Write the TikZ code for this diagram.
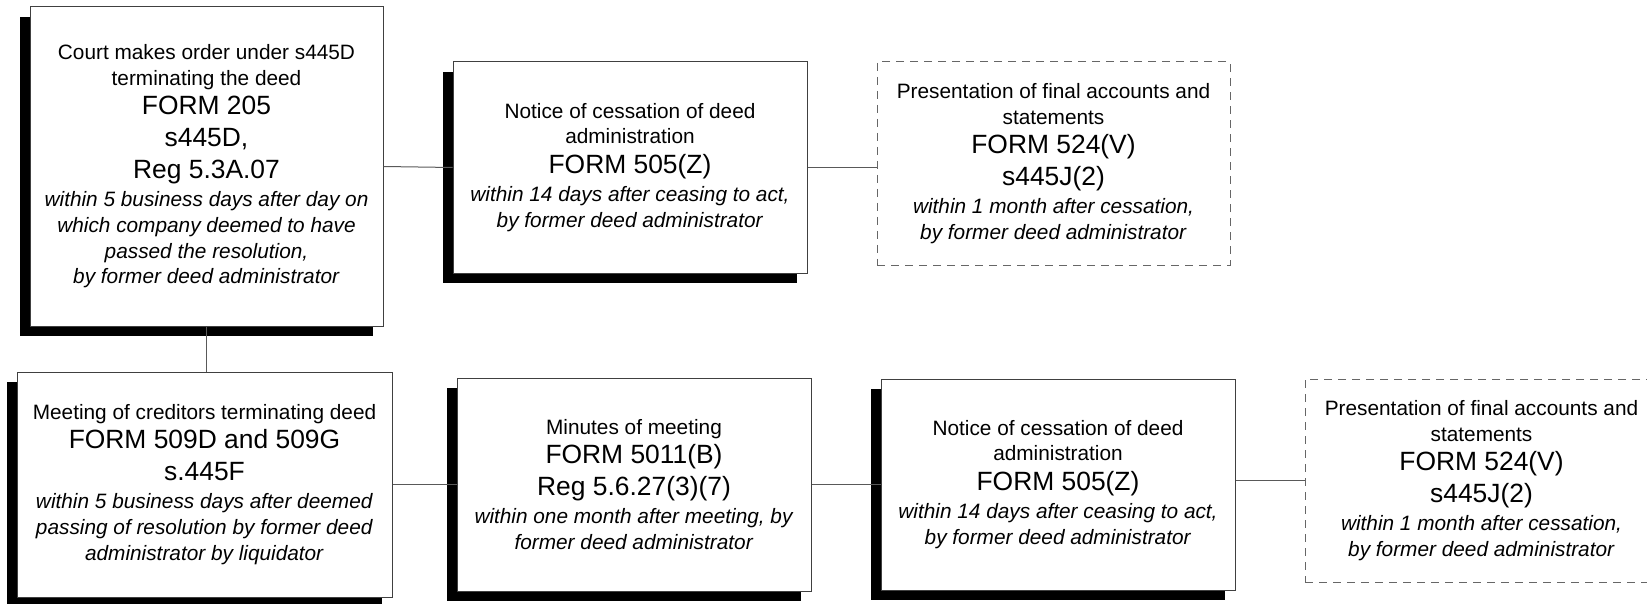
\documentclass[tikz,border=0pt]{standalone}
\usepackage{fontspec}
\setmainfont{Liberation Sans}
\usetikzlibrary{shadows}

\newcommand{\formline}[1]{{\fontsize{13.2}{15.85}\selectfont #1}}

\tikzset{
  formbox/.style={draw=black!75, line width=0.5pt, fill=white, align=center, inner sep=0pt,
    general shadow={fill=black, shadow xshift=-5pt, shadow yshift=-5pt}},
  optbox/.style={draw=black!60, dash pattern=on 4pt off 3pt, line width=0.5pt, fill=white,
    align=center, inner sep=0pt},
  link/.style={draw=black!65, line width=0.5pt}
}

\begin{document}
\begin{tikzpicture}[x=0.5pt, y=-0.5pt, font=\fontsize{10.4}{12.85}\selectfont]
    \useasboundingbox (0,0) rectangle (1647,604);

    \node[formbox, minimum width=176.5pt, minimum height=159.5pt] (court) at (206.5,166.5)
      {Court makes order under s445D\\terminating the deed\\[1.8pt]\formline{FORM 205}\\[3pt]%
       \formline{s445D,}\\[3pt]\formline{Reg 5.3A.07}\\[1.4pt]%
       \textit{within 5 business days after day on}\\\textit{which company deemed to have}\\%
       \textit{passed the resolution,}\\\textit{by former deed administrator}};

    \node[formbox, minimum width=177pt, minimum height=105.5pt] (notice1) at (630,167.5)
      {Notice of cessation of deed\\administration\\[1.8pt]\formline{FORM 505(Z)}\\[1.4pt]%
       \textit{within 14 days after ceasing to act,}\\\textit{by former deed administrator}};

    \node[optbox, minimum width=176.5pt, minimum height=101.5pt] (accounts1) at (1053.5,163.5)
      {Presentation of final accounts and\\statements\\[1.8pt]\formline{FORM 524(V)}\\[3pt]%
       \formline{s445J(2)}\\[1.4pt]%
       \textit{within 1 month after cessation,}\\\textit{by former deed administrator}};

    \node[formbox, minimum width=187.5pt, minimum height=112.5pt] (meeting) at (204.5,484.5)
      {Meeting of creditors terminating deed\\[1.8pt]\formline{FORM 509D and 509G}\\[3pt]%
       \formline{s.445F}\\[1.4pt]%
       \textit{within 5 business days after deemed}\\\textit{passing of resolution by former deed}\\%
       \textit{administrator by liquidator}};

    \node[formbox, minimum width=177pt, minimum height=106.5pt] (minutes) at (634,484.5)
      {Minutes of meeting\\[1.8pt]\formline{FORM 5011(B)}\\[3pt]\formline{Reg 5.6.27(3)(7)}\\[1.4pt]%
       \textit{within one month after meeting, by}\\\textit{former deed administrator}};

    \node[formbox, minimum width=177pt, minimum height=105.5pt] (notice2) at (1058,484.5)
      {Notice of cessation of deed\\administration\\[1.8pt]\formline{FORM 505(Z)}\\[1.4pt]%
       \textit{within 14 days after ceasing to act,}\\\textit{by former deed administrator}};

    \node[optbox, minimum width=176.5pt, minimum height=101.5pt] (accounts2) at (1481.5,480.5)
      {Presentation of final accounts and\\statements\\[1.8pt]\formline{FORM 524(V)}\\[3pt]%
       \formline{s445J(2)}\\[1.4pt]%
       \textit{within 1 month after cessation,}\\\textit{by former deed administrator}};

    \draw[link] (court.east) -- (notice1.west);
    \draw[link] (notice1.east) -- (notice1.east -| accounts1.west);
    \draw[link] (court.south) -- (court.south |- meeting.north);
    \draw[link] (meeting.east) -- (minutes.west);
    \draw[link] (minutes.east) -- (notice2.west);
    \draw[link] (notice2.east |- accounts2.west) -- (accounts2.west);
\end{tikzpicture}
\end{document}
